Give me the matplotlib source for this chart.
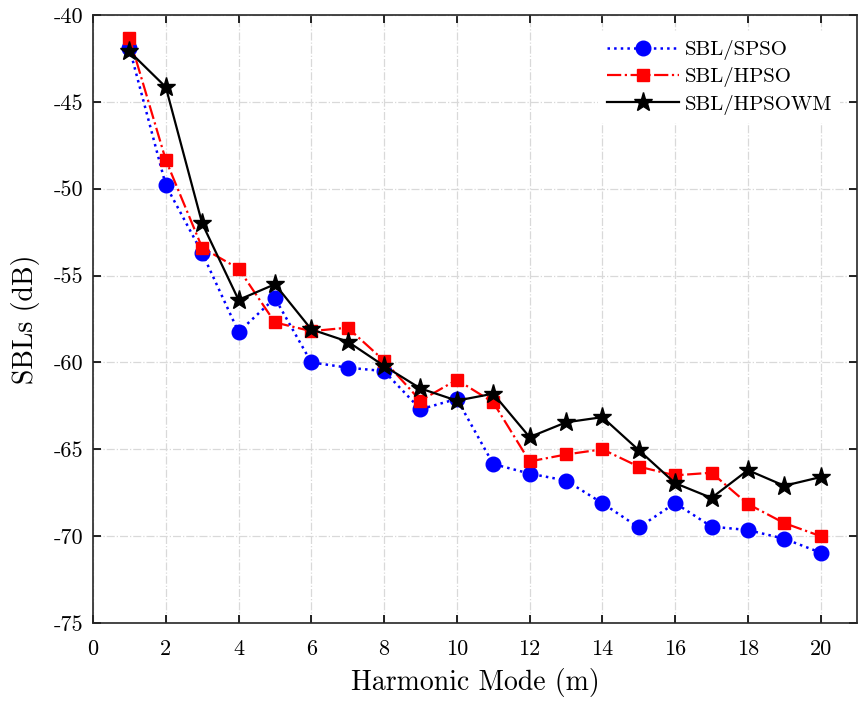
import matplotlib
matplotlib.use("Agg")
import matplotlib.pyplot as plt

plt.rcParams['font.family'] = ['cmr10', 'DejaVu Serif']
plt.rcParams['mathtext.fontset'] = 'cm'
plt.rcParams['axes.unicode_minus'] = False
plt.rcParams['axes.formatter.use_mathtext'] = False

# harmonic mode and SBL values (dB) for each method
modes = list(range(1, 21))
sbl_spso = [-41.9, -49.8, -53.7, -58.25, -56.3, -60.0, -60.3, -60.5, -62.7, -62.1,
            -65.85, -66.4, -66.8, -68.1, -69.5, -68.1, -69.45, -69.65, -70.15, -70.95]
sbl_hpso = [-41.3, -48.35, -53.4, -54.6, -57.7, -58.2, -58.0, -59.9, -62.2, -61.0,
            -62.3, -65.7, -65.3, -65.0, -66.0, -66.5, -66.35, -68.15, -69.25, -70.0]
sbl_hpsowm = [-42.1, -44.15, -52.0, -56.4, -55.5, -58.1, -58.8, -60.2, -61.5, -62.2,
              -61.8, -64.3, -63.45, -63.15, -65.05, -66.95, -67.8, -66.2, -67.1, -66.6]

fig = plt.figure(figsize=(8.59, 7.03), dpi=100)
ax = fig.add_axes([0.1083, 0.1138, 0.8894, 0.8649])

ax.plot(modes, sbl_spso, ':', color='blue', marker='o', markersize=10.5, lw=1.8, label='SBL/SPSO')
ax.plot(modes, sbl_hpso, '-.', color='red', marker='s', markersize=9, lw=1.6, label='SBL/HPSO')
ax.plot(modes, sbl_hpsowm, '-', color='black', marker='*', markersize=14, lw=1.6, label='SBL/HPSOWM')

ax.set_xlim(0, 21)
ax.set_ylim(-75, -40)
ax.set_xticks(range(0, 21, 2))
ax.set_yticks(range(-75, -39, 5))
ax.tick_params(direction='in', top=True, right=True, labelsize=16, length=6, width=1.2)
ax.tick_params(axis='x', pad=12)
ax.tick_params(axis='y', pad=7)
ax.grid(True, linestyle='-.', color='#d9d9d9', lw=0.9)
for s in ax.spines.values():
    s.set_linewidth(1.2)
    s.set_color('#262626')

ax.set_xlabel('Harmonic Mode (m)', fontsize=20, labelpad=6)
ax.set_ylabel('SBLs (dB)', fontsize=20, labelpad=10)

leg = ax.legend(loc='upper right', fontsize=15, frameon=True, fancybox=False,
                edgecolor='none', framealpha=1, handlelength=3.5, borderaxespad=0.8,
                labelspacing=0.35, handletextpad=0.25)

fig.savefig('out.png', dpi=100)
